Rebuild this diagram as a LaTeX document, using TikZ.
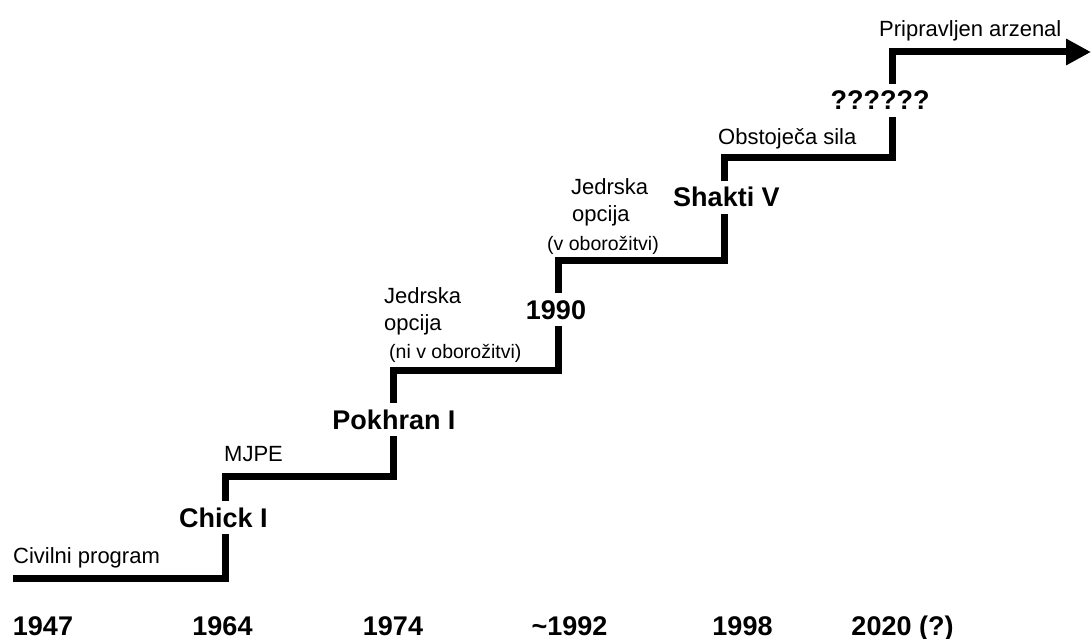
\documentclass[tikz,border=0pt]{standalone}
\usepackage{fontspec}
\setmainfont{Liberation Sans}
\usetikzlibrary{arrows.meta}
\begin{document}
\begin{tikzpicture}[x=1pt,y=-1pt,
  stair/.style={line width=7pt, line join=miter, line cap=butt, -{Triangle[length=25pt,width=25pt]}},
  lbl/.style={font=\fontsize{22}{26}\selectfont, inner sep=0pt, anchor=base west},
  sublbl/.style={font=\fontsize{19.5}{24}\selectfont, inner sep=0pt, anchor=base west},
  milestone/.style={font=\bfseries\fontsize{27}{32}\selectfont, fill=white, inner xsep=3pt, inner ysep=7pt, text height=19pt, text depth=0pt, anchor=base},
  year/.style={font=\bfseries\fontsize{27}{32}\selectfont, inner sep=0pt, anchor=base}]
\useasboundingbox (0,0) rectangle (1092,639);
% staircase points
\coordinate (p0) at (13,578);
\coordinate (p1) at (225,578);
\coordinate (p2) at (225,476);
\coordinate (p3) at (393,476);
\coordinate (p4) at (393,370);
\coordinate (p5) at (558,370);
\coordinate (p6) at (558,260);
\coordinate (p7) at (724,260);
\coordinate (p8) at (724,158);
\coordinate (p9) at (892,158);
\coordinate (p10) at (892,52);
\coordinate (p11) at (1091,52);
\draw[stair] (p0) -- (p1) -- (p2) -- (p3) -- (p4) -- (p5) -- (p6) -- (p7) -- (p8) -- (p9) -- (p10) -- (p11);
% milestones
\node[milestone] (chick) at (223.5,527) {Chick I};
\node[milestone] (pokhran) at (394,429) {Pokhran I};
\node[milestone] (m1990) at (556,319) {1990};
\node[milestone] (shakti) at (726.5,207) {Shakti V};
\node[milestone] (qq) at (880,110) {??????};
% phase labels
\node[lbl] (civ) at (13,563) {Civilni program};
\node[lbl] (mjpe) at (224,461) {MJPE};
\node[lbl] (jo1a) at (384,303) {Jedrska};
\node[lbl] (jo1b) at (384,330) {opcija};
\node[sublbl] (jo1c) at (389,358) {(ni v oborožitvi)};
\node[lbl] (jo2a) at (571,195) {Jedrska};
\node[lbl] (jo2b) at (572,222) {opcija};
\node[sublbl] (jo2c) at (547,251) {(v oborožitvi)};
\node[lbl] (obs) at (718,145) {Obstoječa sila};
\node[lbl] (pri) at (879,37) {Pripravljen arzenal};
% years
\node[year] (y1) at (43,635) {1947};
\node[year] (y2) at (222.5,635) {1964};
\node[year] (y3) at (393,635) {1974};
\node[year] (y4) at (569.5,635) {\char`\~1992};
\node[year] (y5) at (742.5,635) {1998};
\node[year] (y6) at (902.5,635) {2020 (?)};
\end{tikzpicture}
\end{document}
